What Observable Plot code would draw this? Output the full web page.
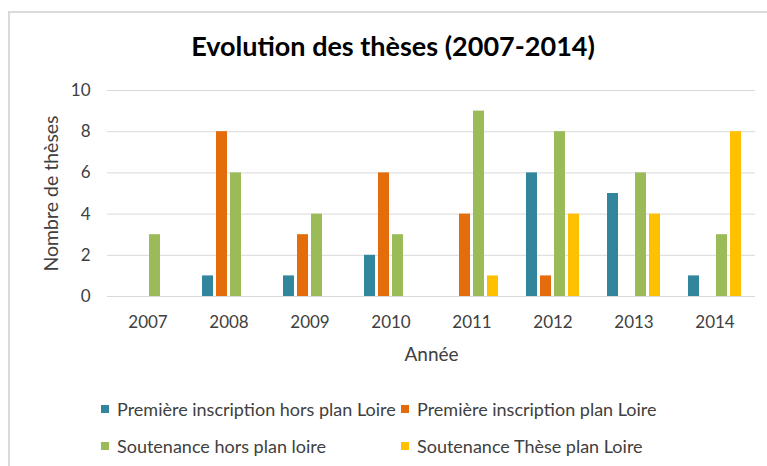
<!DOCTYPE html>
<html>
<head>
<meta charset="utf-8">
<script src="https://cdn.jsdelivr.net/npm/d3@7"></script>
<script src="https://cdn.jsdelivr.net/npm/@observablehq/plot@0.6"></script>
<style>
  html, body { margin: 0; padding: 0; background: #fff; overflow: hidden; }
  #page { position: relative; width: 767px; height: 466px; overflow: hidden; font-family: Lato, "Open Sans", sans-serif; }
  #frame { position: absolute; left: 8px; top: 11px; width: 800px; height: 500px; border: 2px solid #d9d9d9; box-sizing: border-box; }
  #chart { position: absolute; left: 0; top: 0; width: 767px; }
  #title { height: 70px; box-sizing: border-box; padding-top: 29px; margin-left: 8px; width: 770px; text-align: center; font-weight: bold; font-size: 27px; line-height: normal; color: #000; white-space: nowrap; }
  #legend { position: relative; height: 91px; font-size: 18px; color: #404040; }
  .item { position: absolute; display: flex; align-items: center; height: 20px; white-space: nowrap; }
  .sw { width: 8px; height: 8px; margin-right: 8px; flex: none; }
</style>
</head>
<body>
<div id="page">
  <div id="frame"></div>
  <div id="chart">
    <div id="title">Evolution des thèses (2007-2014)</div>
    <div id="plot"></div>
    <div id="legend"></div>
  </div>
</div>
<script>
const years = [2007, 2008, 2009, 2010, 2011, 2012, 2013, 2014];
const seriesNames = [
  "Première inscription hors plan Loire",
  "Première inscription plan Loire",
  "Soutenance hors plan loire",
  "Soutenance Thèse plan Loire"
];
const premiereHors = [0, 1, 1, 2, 0, 6, 5, 1];
const premierePlan = [0, 8, 3, 6, 4, 1, 0, 0];
const soutenanceHors = [3, 6, 4, 3, 9, 8, 6, 3];
const soutenancePlan = [0, 0, 0, 0, 1, 4, 4, 8];
const yTicks = [0, 2, 4, 6, 8, 10];
const colors = ["#31859C", "#E46C0A", "#9BBB59", "#FFC000"];

const data = [];
[premiereHors, premierePlan, soutenanceHors, soutenancePlan].forEach((vals, s) => {
  vals.forEach((v, i) => data.push({year: years[i], series: seriesNames[s], value: v}));
});

const chart = Plot.plot({
  width: 767,
  height: 305,
  marginLeft: 106,
  marginRight: 12,
  marginTop: 20,
  marginBottom: 79,
  style: {fontFamily: "Lato, 'Open Sans', sans-serif", fontSize: "17px", color: "#404040", background: "transparent"},
  fx: {domain: years, padding: 0},
  x: {domain: seriesNames, paddingInner: 0.2, paddingOuter: 0.8, axis: null},
  y: {domain: [0, 10]},
  color: {domain: seriesNames, range: colors},
  marks: [
    Plot.gridY(yTicks, {stroke: "#d9d9d9", strokeOpacity: 1, strokeWidth: 1}),
    Plot.axisY(yTicks, {tickSize: 0, tickPadding: 17, label: null, fill: "#404040"}),
    Plot.axisY({ticks: [], tickSize: 0, label: "Nombre de thèses", labelAnchor: "center", labelOffset: 63, labelArrow: "none", fill: "#404040", fontSize: 19.5}),
    Plot.axisFx({anchor: "bottom", tickSize: 0, tickPadding: 19, tickFormat: d => String(d), label: null, fill: "#404040"}),
    Plot.axisFx({anchor: "bottom", ticks: [], tickSize: 0, label: "Année", labelAnchor: "center", labelOffset: 64, labelArrow: "none", fill: "#404040", fontSize: 19}),
    Plot.barY(data.filter(d => d.value > 0), {fx: "year", x: "series", y: "value", fill: "series"})
  ]
});
document.getElementById("plot").appendChild(chart);

const legend = document.getElementById("legend");
const legendPos = [[101, 24], [401, 24], [101, 61], [401, 61]];
seriesNames.forEach((name, i) => {
  const it = document.createElement("div");
  it.className = "item";
  it.style.left = legendPos[i][0] + "px";
  it.style.top = legendPos[i][1] + "px";
  const sw = document.createElement("span");
  sw.className = "sw";
  sw.style.background = colors[i];
  const tx = document.createElement("span");
  tx.textContent = name;
  it.appendChild(sw);
  it.appendChild(tx);
  legend.appendChild(it);
});
</script>
</body>
</html>
